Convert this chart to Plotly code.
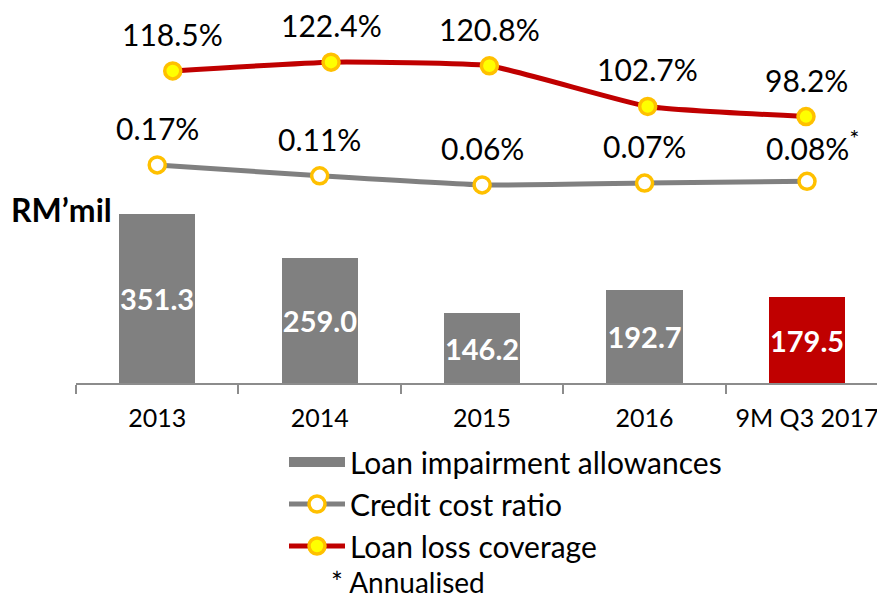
import plotly.graph_objects as go

# data
years = ["2013", "2014", "2015", "2016", "9M Q3 2017"]
allowances = [351.3, 259.0, 146.2, 192.7, 179.5]
credit_cost = [0.17, 0.11, 0.06, 0.07, 0.08]
credit_note = ["", "", "", "", "*"]
coverage = [118.5, 122.4, 120.8, 102.7, 98.2]

FONT = "Lato"
GREY = "#808080"
RED = "#C00000"
ORANGE = "#FFC000"

# the page body has an 8px margin, so the figure sits at (8, 8) in the window
OFF = 8
W, H = 885 - OFF, 597 - OFF
L, R, T, B = 76 - OFF, 0, 0, 214
pw, ph = W - L - R, H - T - B


def px(x):
    return (x - OFF - L) / pw


def py(y):
    return (H - B - (y - OFF)) / ph


bar_colors = [GREY] * (len(years) - 1) + [RED]

fig = go.Figure()

fig.add_trace(go.Bar(
    x=years, y=allowances, name="Loan impairment allowances",
    marker=dict(color=bar_colors, line=dict(width=0)),
    width=0.47,
    text=[f"{v:.1f}" for v in allowances],
    textposition="inside", insidetextanchor="middle", textangle=0,
    constraintext="none",
    textfont=dict(family=FONT, size=29, color="white", weight="bold"),
    showlegend=False, cliponaxis=False,
))

# legend-only entry so the swatch is a wide grey block like the original
fig.add_trace(go.Scatter(
    x=[None], y=[None], name="Loan impairment allowances", mode="lines",
    line=dict(color=GREY, width=18), legendgroup="a",
))

fig.add_trace(go.Scatter(
    x=years, y=credit_cost, name="Credit cost ratio", yaxis="y2",
    mode="lines+markers",
    line=dict(color=GREY, width=5, shape="spline", smoothing=0.4),
    marker=dict(size=16, color="white", line=dict(color=ORANGE, width=3.5)),
    legendgroup="b", cliponaxis=False,
))

fig.add_trace(go.Scatter(
    x=years, y=coverage, name="Loan loss coverage", xaxis="x2", yaxis="y3",
    mode="lines+markers",
    line=dict(color=RED, width=5, shape="spline", smoothing=0.4),
    marker=dict(size=16, color="#FFFF00", line=dict(color=ORANGE, width=3.5)),
    legendgroup="c", cliponaxis=False,
))

annotations = []
for i, (v, n) in enumerate(zip(credit_cost, credit_note)):
    txt = f"{v:.2f}%" + (f"<sup><span style='font-size:24px'>{n}</span></sup>" if n else "")
    annotations.append(dict(x=i, y=v, xref="x", yref="y2", text=txt,
                            showarrow=False, yshift=37, xshift=6 if n else 0,
                            font=dict(family=FONT, size=30, color="black")))
for i, v in enumerate(coverage):
    annotations.append(dict(x=i, y=v, xref="x2", yref="y3", text=f"{v:.1f}%",
                            showarrow=False, yshift=37,
                            font=dict(family=FONT, size=30, color="black")))

annotations.append(dict(x=px(9), y=py(209), xref="paper", yref="paper",
                        text="<b>RM’mil</b>", showarrow=False,
                        xanchor="left", yanchor="middle",
                        font=dict(family=FONT, size=32, color="black")))
annotations.append(dict(x=px(329), y=py(582), xref="paper", yref="paper",
                        text="* Annualised", showarrow=False,
                        xanchor="left", yanchor="middle",
                        font=dict(family=FONT, size=28, color="black")))

fig.update_layout(
    width=W, height=H,
    margin=dict(l=L, r=R, t=T, b=B, pad=0, autoexpand=False),
    plot_bgcolor="white", paper_bgcolor="white",
    font=dict(family=FONT, size=25, color="black"),
    bargap=0,
    xaxis=dict(type="category", range=[-0.5, 4.48], showgrid=False, zeroline=False,
               showline=True, linecolor="#8C8C8C", linewidth=2,
               ticks="outside", tickson="boundaries", ticklen=9, tickwidth=2,
               tickcolor="#8C8C8C", ticklabelstandoff=12,
               tickfont=dict(family=FONT, size=25, color="black")),
    xaxis2=dict(type="category", overlaying="x", range=[-0.611, 4.499], visible=False),
    yaxis=dict(range=[0, 779.6], visible=False, showgrid=False),
    yaxis2=dict(range=[-1.028, 1.032], overlaying="y", visible=False),
    yaxis3=dict(range=[-20.3, 146.5], overlaying="y", visible=False),
    showlegend=True,
    legend=dict(x=px(284), y=py(436), xanchor="left", yanchor="top",
                orientation="v", tracegroupgap=0, bgcolor="rgba(0,0,0,0)",
                font=dict(family=FONT, size=30, color="black"), itemwidth=56),
    annotations=annotations,
)

fig.write_html("out.html")
